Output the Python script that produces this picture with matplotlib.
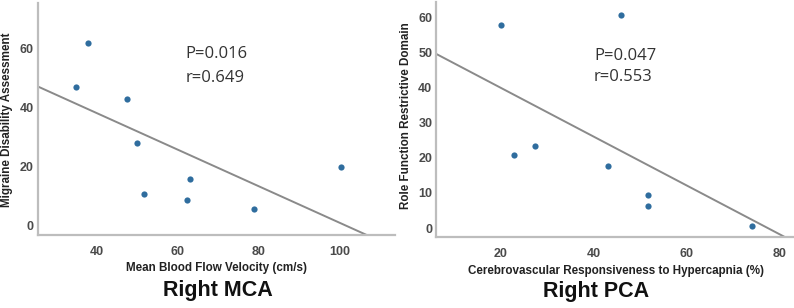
import numpy as np
import matplotlib
matplotlib.use("Agg")
import matplotlib.pyplot as plt

# ---- data ----
mca_velocity = [37.7, 34.8, 47.4, 49.9, 51.7, 63.0, 62.2, 78.9, 100.2]
mca_midas = [61.7, 46.7, 42.8, 27.8, 10.8, 15.8, 8.8, 5.8, 19.7]

pca_cvr = [20.2, 45.9, 22.9, 27.4, 43.0, 51.7, 51.7, 73.9]
pca_role = [57.8, 60.7, 20.7, 23.5, 17.8, 9.3, 6.4, 0.7]

mca_xticks = [40, 60, 80, 100]
mca_yticks = [0, 20, 40, 60]
pca_xticks = [20, 40, 60, 80]
pca_yticks = [0, 10, 20, 30, 40, 50, 60]

mca_stats = ["P=0.016", "r=0.649"]
pca_stats = ["P=0.047", "r=0.553"]

W, H = 794, 308
fig = plt.figure(figsize=(W / 100, H / 100), dpi=100)

def px_axes(l, t, r, b):
    return fig.add_axes([l / W, 1 - b / H, (r - l) / W, (b - t) / H])

spine_col = "#bdbdbd"
line_col = "#8a8a8a"
pt_col = "#2f6d9e"
tick_col = "#4a4a4a"

def style(ax, xlim, ylim, xticks, yticks):
    ax.set_xlim(*xlim)
    ax.set_ylim(*ylim)
    ax.set_xticks(xticks)
    ax.set_yticks(yticks)
    for s in ["top", "right"]:
        ax.spines[s].set_visible(False)
    for s in ["left", "bottom"]:
        ax.spines[s].set_color(spine_col)
        ax.spines[s].set_linewidth(1.6)
    ax.tick_params(axis="both", length=0, labelsize=9, labelcolor=tick_col)
    ax.tick_params(axis="x", pad=8)
    ax.tick_params(axis="y", pad=3)
    for lab in ax.get_xticklabels() + ax.get_yticklabels():
        lab.set_fontweight("bold")
        lab.set_family("Liberation Sans")

def fitline(ax, x, y, xlim):
    k, b = np.polyfit(x, y, 1)
    xs = np.array(xlim)
    ax.plot(xs, k * xs + b, color=line_col, lw=1.4, zorder=1, clip_on=True)

stat_kw = dict(fontsize=12, family="Open Sans", color="#333333", va="baseline")

# left panel
ax1 = px_axes(37.7, 3, 395, 235)
xl1, yl1 = (25.4, 113.6), (-3.1, 75.2)
fitline(ax1, mca_velocity, mca_midas, xl1)
ax1.scatter(mca_velocity, mca_midas, s=20, color=pt_col, zorder=3, linewidths=0)
style(ax1, xl1, yl1, mca_xticks, mca_yticks)
ax1.text(0.414, 0.762, mca_stats[0], transform=ax1.transAxes, **stat_kw)
ax1.text(0.414, 0.661, mca_stats[1], transform=ax1.transAxes, **stat_kw)

# right panel
ax2 = px_axes(436.5, 2, 793, 237)
xl2, yl2 = (6.3, 82.8), (-2.55, 64.4)
fitline(ax2, pca_cvr, pca_role, xl2)
ax2.scatter(pca_cvr, pca_role, s=20, color=pt_col, zorder=3, linewidths=0)
style(ax2, xl2, yl2, pca_xticks, pca_yticks)
ax2.text(0.442, 0.753, pca_stats[0], transform=ax2.transAxes, **stat_kw)
ax2.text(0.442, 0.664, pca_stats[1], transform=ax2.transAxes, **stat_kw)

lab_kw = dict(fontsize=8.4, fontweight="bold", family="Liberation Sans", color="#222222",
              ha="center", va="center")
fig.text(217 / W, 1 - 268 / H, "Mean Blood Flow Velocity (cm/s)", **lab_kw)
fig.text(616 / W, 1 - 271 / H, "Cerebrovascular Responsiveness to Hypercapnia (%)", **lab_kw)
fig.text(7 / W, 1 - 119.5 / H, "Migraine Disability Assessment", rotation=90, **lab_kw)
fig.text(406 / W, 1 - 116 / H, "Role Function Restrictive Domain", rotation=90, **lab_kw)

big_kw = dict(fontsize=15.5, fontweight="bold", family="Liberation Sans", color="#111111",
              ha="center", va="center")
fig.text(218 / W, 1 - 290.5 / H, "Right MCA", **big_kw)
fig.text(596 / W, 1 - 291 / H, "Right PCA", **big_kw)

fig.savefig("out.png", dpi=100)
